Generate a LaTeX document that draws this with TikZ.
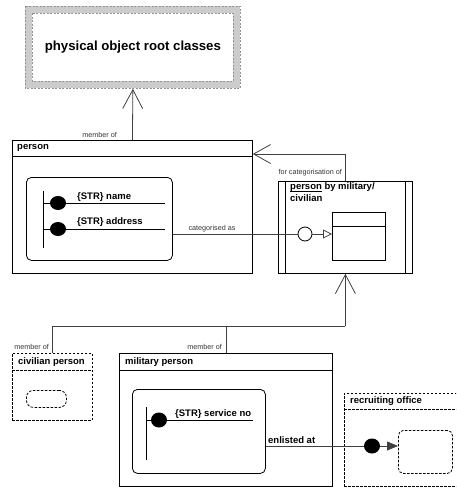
\documentclass[tikz,border=0pt]{standalone}
\usepackage{fontspec}
\setmainfont{Liberation Sans}
\usetikzlibrary{arrows.meta,shapes.geometric}
% underline a word just below its baseline
\newcommand\ulword[1]{\setbox0\hbox{#1}\rlap{\rule[-1.6pt]{\wd0}{0.6pt}}#1}
\begin{document}
\begin{tikzpicture}[x=1pt,y=-1pt,
  box/.style={draw, line width=0.8pt, rectangle, inner sep=0pt, anchor=north west},
  dbox/.style={box, dash pattern=on 2.5pt off 1.5pt},
  rbox/.style={box, rounded corners=5pt},
  drbox/.style={dbox, rounded corners=5pt},
  title/.style={font=\fontsize{9.5}{12}\selectfont\bfseries, inner sep=0pt, anchor=west},
  lbl/.style={font=\fontsize{7.2}{8}\selectfont, text=black!80, inner sep=0pt},
  conn/.style={draw=black!75, line width=0.8pt},
  barb/.style={conn, -{Straight Barb[length=19pt,width=20pt]}},
  attr/.style={line width=0.8pt},
  blob/.style={fill=black}
]
\clip (0,0) rectangle (456,488);

% ---- root classes box with grey band
\node[box, draw=none, minimum width=215pt, minimum height=82pt] (root) at (25,6) {};
\fill[gray!40] (25,6) rectangle (240,88);
\fill[white] (32,13) rectangle (233,81);
\draw[gray!85, line width=0.7pt, dash pattern=on 2pt off 1.5pt] (25,6) rectangle (240,88);
\draw[gray!85, line width=0.7pt, dash pattern=on 2pt off 1.5pt] (32,13) rectangle (233,81);
\node[font=\fontsize{13.2}{15}\selectfont\bfseries, inner sep=0pt] (roottext) at (root.center) {physical object root classes};

% ---- person
\node[box, minimum width=240pt, minimum height=133pt] (person) at (12,140) {};
\draw[line width=0.8pt] (12,156) -- (252,156);
\node[title] (persontitle) at (17,148) {person};
\node[rbox, minimum width=146pt, minimum height=83pt] (pinner) at (26,177) {};
\draw[attr] (43,191) -- (43,248);
\draw[attr] (43,203) -- (165,203);
\draw[attr] (43,229) -- (165,229);
\fill[blob] (58,203) ellipse (8pt and 7pt);
\fill[blob] (58,229) ellipse (8pt and 7pt);
\node[title] (aname) at (77,197) {\{STR\} name};
\node[title] (aaddr) at (77,222) {\{STR\} address};

% ---- categorisation box
\node[box, minimum width=134pt, minimum height=92pt] (cat) at (278,181) {};
\draw[line width=0.8pt] (285,181) -- (285,273);
\draw[line width=0.8pt] (405,181) -- (405,273);
\node[title, anchor=north west, align=left] (cattitle) at (290,182.5) {\ulword{person} by military/\\civilian};
\node[box, minimum width=53pt, minimum height=48pt] (catinner) at (332,212) {};
\draw[line width=0.8pt] (332,226) -- (385,226);

% ---- civilian person
\node[dbox, minimum width=80pt, minimum height=67pt] (civ) at (12,353) {};
\draw[line width=0.8pt, dash pattern=on 2.5pt off 1.5pt] (12,370) -- (92,370);
\node[title] (civtitle) at (18,362) {civilian person};
\node[dbox, rounded corners=7pt, minimum width=40pt, minimum height=17pt] (civinner) at (26,390) {};

% ---- military person
\node[box, minimum width=213pt, minimum height=133pt] (mil) at (119,353) {};
\draw[line width=0.8pt] (119,370) -- (332,370);
\node[title] (miltitle) at (125,362) {military person};
\node[rbox, minimum width=133pt, minimum height=84pt] (milinner) at (132,389) {};
\draw[attr] (146,407) -- (146,460);
\draw[attr] (146,420) -- (253,420);
\fill[blob] (159,420) ellipse (8pt and 7.5pt);
\node[title] (aserv) at (175,414) {\{STR\} service no};

% ---- recruiting office
\node[dbox, minimum width=130pt, minimum height=93pt] (rec) at (344,393) {};
\draw[line width=0.8pt, dash pattern=on 2.5pt off 1.5pt] (344,409) -- (474,409);
\node[title] (rectitle) at (350,401) {recruiting office};
\node[drbox, minimum width=54pt, minimum height=43pt] (recinner) at (398,430) {};

% ---- connectors
\draw[barb] (person.north) -- (root.south);
\node[lbl, anchor=east] (m1) at (117,135) {member of};

\draw[conn, -{Straight Barb[length=17pt,width=19pt]}] (cat.north) |- (person.east |- 0,154);
\node[lbl, anchor=east] (m2) at (342,173) {for categorisation of};

\node[draw=black, line width=0.8pt, circle, minimum size=14pt, inner sep=0pt] (circ) at (305,234) {};
\draw[conn] (pinner.east |- circ) -- (circ.west);
\draw[conn, -{Triangle[open, length=9pt, width=9pt]}] (circ.east) -- (catinner.west |- circ);
\node[lbl] (m3) at (212,229) {categorised as};

\coordinate (j) at (cat.south |- 0,326);
\draw[conn] (civ.north) |- (j);
\draw[barb] (j) -- (cat.south);
\draw[conn] (mil.north) -- (mil.north |- j);
\node[lbl, anchor=east] (m4) at (49,347) {member of};
\node[lbl, anchor=east] (m5) at (222,347) {member of};

\node[fill=black, ellipse, minimum width=16pt, minimum height=15pt, inner sep=0pt] (dot) at (372,446) {};
\draw[conn] (milinner.east |- dot) -- (dot.west);
\draw[conn, -{Triangle[length=11pt, width=9pt]}] (dot.east) -- (recinner.west |- dot);
\node[title] (m6) at (268,440) {enlisted at};
\end{tikzpicture}
\end{document}
